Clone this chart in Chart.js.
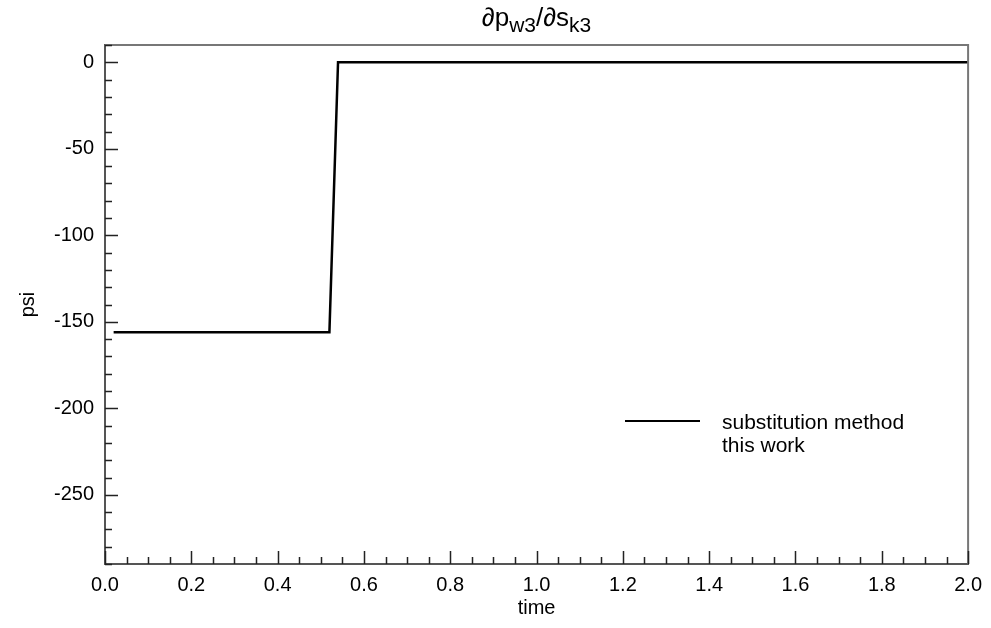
<!DOCTYPE html>
<html>
<head>
<meta charset="utf-8">
<script src="https://cdn.jsdelivr.net/npm/chart.js@4"></script>
<style>
  html, body { margin: 0; padding: 0; background: #fff; }
  #wrap { width: 991px; height: 628px; }
</style>
</head>
<body>
<div id="wrap"><canvas id="chart" width="991" height="628"></canvas></div>
<script>
// datos
const timeValues = [0.02, 0.52, 0.54, 2.0];
const psiValues = [-156, -156, 0, 0];
const xTicks = [0.0, 0.2, 0.4, 0.6, 0.8, 1.0, 1.2, 1.4, 1.6, 1.8, 2.0];
const yTicks = [0, -50, -100, -150, -200, -250];
const legendLabels = ['substitution method', 'this work'];

const FONT = "'Liberation Sans', Arial, sans-serif";

// título con subíndices, marcos y marcas hacia dentro, leyenda
const extras = {
  id: 'extras',
  afterDraw(chart) {
    const c = chart.ctx;
    const a = chart.chartArea;
    const xs = chart.scales.x, ys = chart.scales.y;
    c.save();

    // marco superior y derecho
    c.strokeStyle = '#777';
    c.lineWidth = 2;
    c.beginPath();
    c.moveTo(a.left, a.top); c.lineTo(a.right, a.top); c.lineTo(a.right, a.bottom);
    c.stroke();

    // marcas
    c.strokeStyle = '#222';
    c.lineWidth = 1.5;
    c.beginPath();
    for (let v = -290; v <= 10; v += 10) {
      const y = Math.round(ys.getPixelForValue(v)) + 0.5;
      const len = v % 50 === 0 ? 13 : 7;
      c.moveTo(a.left, y); c.lineTo(a.left + len, y);
    }
    for (let i = 0; i <= 40; i++) {
      const v = i * 0.05;
      const x = Math.round(xs.getPixelForValue(v)) + 0.5;
      const len = i % 4 === 0 ? 13 : 7;
      c.moveTo(x, a.bottom); c.lineTo(x, a.bottom - len);
    }
    c.stroke();

    // título
    const parts = [['∂p', 26, 0], ['w3', 21, 6], ['/∂s', 26, 0], ['k3', 21, 6]];
    let total = 0;
    parts.forEach(p => { c.font = p[1] + 'px ' + FONT; total += c.measureText(p[0]).width; });
    let x = (a.left + a.right) / 2 - total / 2;
    c.fillStyle = '#000';
    c.textBaseline = 'alphabetic';
    c.textAlign = 'left';
    parts.forEach(p => {
      c.font = p[1] + 'px ' + FONT;
      c.fillText(p[0], x, 26 + p[2]);
      x += c.measureText(p[0]).width;
    });

    // leyenda
    c.strokeStyle = '#000';
    c.lineWidth = 2;
    c.beginPath();
    c.moveTo(625, 421); c.lineTo(700, 421);
    c.stroke();
    c.font = '21px ' + FONT;
    c.textBaseline = 'middle';
    legendLabels.forEach((t, i) => c.fillText(t, 722, 423 + i * 23));

    c.restore();
  }
};

new Chart(document.getElementById('chart'), {
  type: 'line',
  data: {
    datasets: [{
      label: legendLabels[0],
      data: timeValues.map((t, i) => ({ x: t, y: psiValues[i] })),
      borderColor: '#000',
      borderWidth: 2.5,
      pointRadius: 0,
      tension: 0,
      fill: false,
    }]
  },
  options: {
    responsive: false,
    animation: false,
    layout: { padding: { top: 45, right: 21, bottom: 0, left: 0 } },
    plugins: {
      legend: { display: false },
      tooltip: { enabled: false },
    },
    scales: {
      x: {
        type: 'linear',
        min: 0,
        max: 2.0,
        afterBuildTicks: s => { s.ticks = xTicks.map(v => ({ value: v })); },
        afterFit: s => { s.height = 64; },
        grid: { display: false, drawTicks: false },
        border: { display: true, color: '#555', width: 2 },
        ticks: {
          color: '#000',
          font: { family: FONT, size: 20 },
          padding: 9,
          maxRotation: 0,
          callback: v => v.toFixed(1),
        },
        title: {
          display: true,
          text: 'time',
          color: '#000',
          font: { family: FONT, size: 20 },
          padding: { top: 0, bottom: 8 },
        },
      },
      y: {
        min: -290,
        max: 10,
        afterBuildTicks: s => { s.ticks = yTicks.map(v => ({ value: v })); },
        afterFit: s => { s.width = 105; },
        grid: { display: false, drawTicks: false },
        border: { display: true, color: '#555', width: 2 },
        ticks: {
          color: '#000',
          font: { family: FONT, size: 20 },
          padding: 11,
        },
        title: {
          display: true,
          text: 'psi',
          color: '#000',
          font: { family: FONT, size: 20 },
          padding: { top: 16, bottom: 0 },
        },
      },
    },
  },
  plugins: [extras],
});
</script>
</body>
</html>
